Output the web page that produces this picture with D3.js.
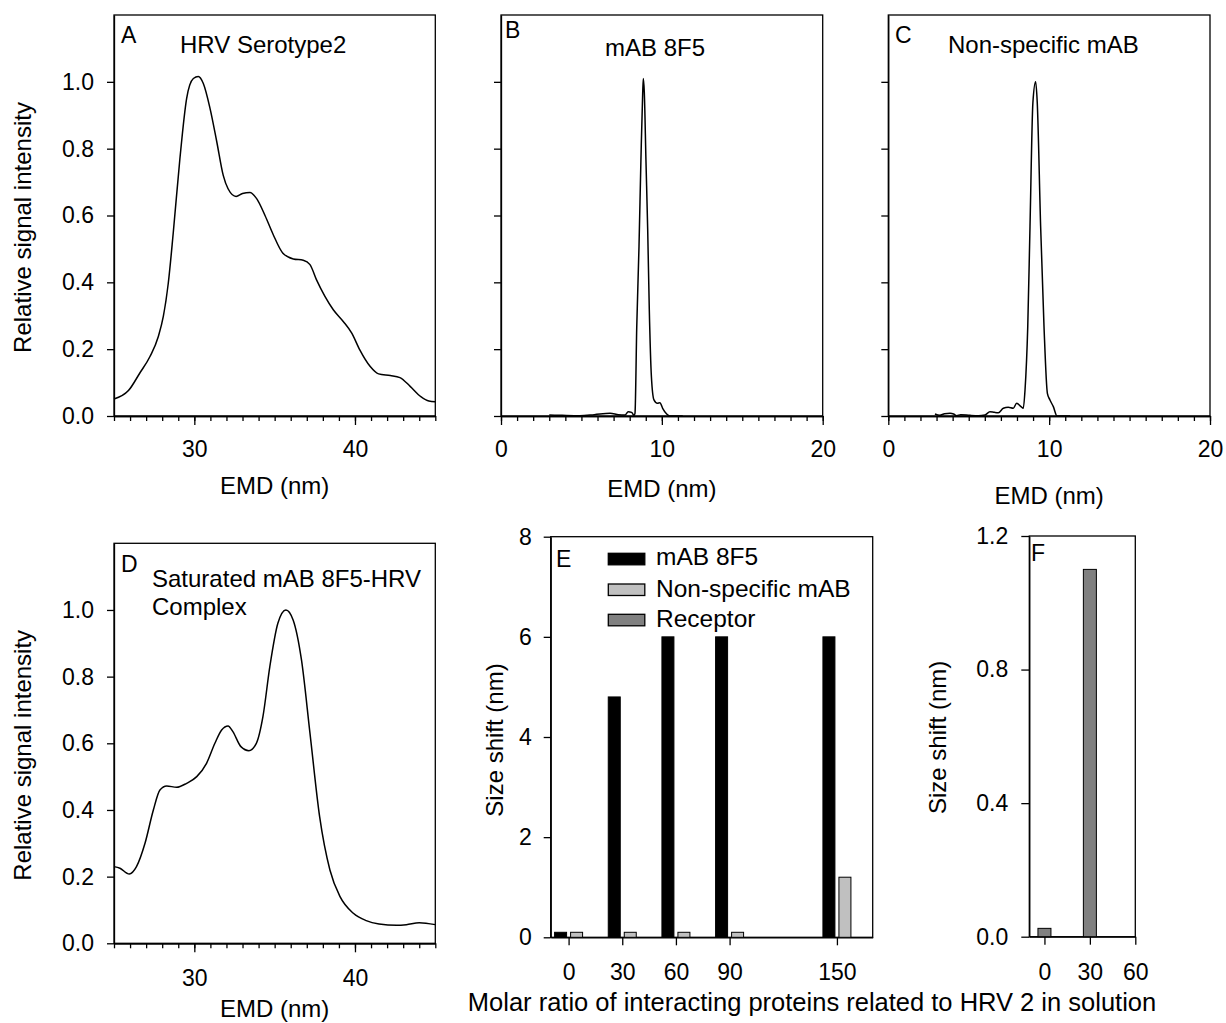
<!DOCTYPE html>
<html>
<head>
<meta charset="utf-8">
<script src="https://cdn.jsdelivr.net/npm/d3@7"></script>
<style>
body { margin: 0; background: #fff; }
svg text { font-family: "Liberation Sans", Arial, sans-serif; fill: #000; }
</style>
</head>
<body>
<div id="chart"></div>
<script>
// Panel A - HRV Serotype2
const emdA = [25.0,25.9,26.6,27.24,27.76,28.07,28.38,28.69,29.1,29.52,29.94,30.25,30.56,30.98,31.4,31.8,32.1,32.6,33.0,33.46,33.9,34.4,34.9,35.5,36.16,36.78,37.2,37.6,38.13,38.65,39.27,39.8,40.3,40.95,41.47,42.2,42.8,43.45,44.1,44.6,45.0];
const sigA = [0.051,0.076,0.128,0.178,0.238,0.298,0.398,0.549,0.769,0.95,1.01,1.016,0.995,0.92,0.82,0.72,0.68,0.657,0.666,0.669,0.649,0.6,0.544,0.488,0.47,0.466,0.453,0.408,0.358,0.318,0.283,0.248,0.198,0.148,0.126,0.121,0.115,0.088,0.058,0.045,0.043];

// Panel B - mAB 8F5
const emdB = [3.0,3.8,4.9,5.8,6.78,7.3,7.71,7.91,8.12,8.27,8.33,8.44,8.58,8.70,8.81,8.85,8.91,9.01,9.12,9.22,9.35,9.51,9.72,9.88,10.05,10.3,10.5,11.3];
const sigB = [0.003,0.002,0.001,0.004,0.008,0.004,0.003,0.013,0.011,0.002,0.008,0.268,0.508,0.768,0.968,1.01,0.968,0.768,0.558,0.318,0.118,0.048,0.038,0.04,0.023,0.006,0,0];

// Panel C - Non-specific mAB
const emdC = [2.9,3.2,3.5,3.84,4.06,4.25,4.5,5.08,5.6,6.01,6.32,6.6,6.84,7.15,7.46,7.77,7.98,8.25,8.39,8.5,8.67,8.81,8.99,9.16,9.26,9.47,9.68,9.89,10.05,10.26,10.49,11.3];
const sigC = [0.006,0.002,0.007,0.008,0.006,0.001,0.004,0.002,0.001,0.003,0.013,0.011,0.01,0.023,0.026,0.023,0.038,0.028,0.023,0.078,0.268,0.568,0.938,1.0,0.938,0.568,0.268,0.068,0.048,0.028,0,0];

// Panel D - saturated complex
const emdD = [25.0,25.37,25.95,26.4,26.93,27.45,27.86,28.28,28.9,29.52,30.15,30.76,31.28,31.7,32.1,32.4,32.9,33.4,33.86,34.27,34.7,35.2,35.7,36.15,36.67,37.2,37.8,38.44,39.07,39.9,40.7,41.5,42.6,43.2,44.0,45.0];
const sigD = [0.23,0.225,0.208,0.23,0.30,0.40,0.46,0.472,0.468,0.48,0.50,0.54,0.60,0.64,0.652,0.635,0.59,0.578,0.60,0.68,0.83,0.96,1.0,0.97,0.85,0.63,0.38,0.22,0.14,0.09,0.068,0.058,0.054,0.056,0.062,0.056];

// Panel E / F - size shift bars
const ratiosE = [0, 30, 60, 90, 150];
const mab8F5 = [0.1, 4.8, 6, 6, 6];
const nonSpecific = [0.1, 0.1, 0.1, 0.1, 1.2];
const ratiosF = [0, 30];
const receptor = [0.025, 1.1];
const legendNames = ["mAB 8F5", "Non-specific mAB", "Receptor"];
const legendColors = ["#000000", "#c0c0c0", "#808080"];

const yTicksCurve = [0, 0.2, 0.4, 0.6, 0.8, 1.0];

const W = 1226, H = 1023;
const svg = d3.select("#chart").append("svg")
    .attr("width", W)
    .attr("height", H);
svg.append("rect").attr("width", W).attr("height", H).attr("fill", "#fff");

function styleAxis(sel) {
    sel.select(".domain").attr("stroke", "#000").attr("stroke-width", 1.3);
    sel.selectAll(".tick line").attr("stroke", "#000").attr("stroke-width", 1.3);
    sel.selectAll("text").attr("font-size", 23);
}

function curvePanel(o) {
    let w = o.right - o.left, h = o.bottom - o.top;
    let g = svg.append("g").attr("transform", `translate(${o.left},${o.top})`);
    let x = d3.scaleLinear().domain(o.xDomain).range([0, w]);
    let y = d3.scaleLinear().domain([0, 1.2]).range([h, 0]);

    // minor x ticks
    g.append("g")
        .attr("transform", `translate(0,${h})`)
        .call(d3.axisBottom(x).tickValues(d3.range(o.xDomain[0], o.xDomain[1] + 0.5, 1)).tickSize(5).tickSizeOuter(0).tickFormat(""))
        .call(styleAxis);

    // major x ticks
    let xa = g.append("g")
        .attr("transform", `translate(0,${h})`)
        .call(d3.axisBottom(x).tickValues(o.xMajor).tickSize(9).tickSizeOuter(0).tickFormat(d3.format("d")))
        .call(styleAxis);
    xa.selectAll("text").attr("dy", null).attr("y", o.tickLabelY || 41);

    g.append("g")
        .call(d3.axisLeft(y).tickValues(yTicksCurve).tickSize(7).tickSizeOuter(0).tickPadding(13)
            .tickFormat(o.yLabels ? d3.format(".1f") : ""))
        .call(styleAxis);

    g.append("rect")
        .attr("width", w).attr("height", h)
        .attr("fill", "none").attr("stroke", "#000").attr("stroke-width", 1.3);

    let line = d3.line()
        .x(d => x(d[0]))
        .y(d => y(d[1]))
        .curve(d3.curveMonotoneX);

    g.append("path")
        .datum(d3.zip(o.xs, o.ys))
        .attr("fill", "none")
        .attr("stroke", "#000")
        .attr("stroke-width", 1.5)
        .attr("d", line);

    // x title
    svg.append("text")
        .attr("x", o.left + w / 2)
        .attr("y", o.xTitleY)
        .attr("text-anchor", "middle")
        .attr("font-size", 24)
        .text("EMD (nm)");

    if (o.yLabels) {
        svg.append("text")
            .attr("transform", `translate(31,${o.top + h / 2 + 12}) rotate(-90)`)
            .attr("text-anchor", "middle")
            .attr("font-size", 24)
            .text("Relative signal intensity");
    }

    svg.append("text")
        .attr("x", o.letterPos[0]).attr("y", o.letterPos[1])
        .attr("font-size", 23)
        .text(o.letter);

    o.title.forEach((t, i) => {
        svg.append("text")
            .attr("x", o.titlePos[0]).attr("y", o.titlePos[1] + i * 28)
            .attr("font-size", 24)
            .text(t);
    });
}

curvePanel({left: 114, right: 435.3, top: 15, bottom: 416, xDomain: [25, 45], xMajor: [30, 40],
    xs: emdA, ys: sigA, yLabels: true, xTitleY: 494, letter: "A", letterPos: [121, 43],
    title: ["HRV Serotype2"], titlePos: [180, 53]});

curvePanel({left: 501, right: 822.7, top: 15, bottom: 416, xDomain: [0, 20], xMajor: [0, 10, 20],
    xs: emdB, ys: sigB, yLabels: false, xTitleY: 497, letter: "B", letterPos: [505, 38],
    title: ["mAB 8F5"], titlePos: [605, 56]});

curvePanel({left: 888.3, right: 1210, top: 15, bottom: 416, xDomain: [0, 20], xMajor: [0, 10, 20],
    xs: emdC, ys: sigC, yLabels: false, xTitleY: 504, letter: "C", letterPos: [895, 43],
    title: ["Non-specific mAB"], titlePos: [948, 53]});

curvePanel({left: 114, right: 435.3, top: 543.3, bottom: 943.3, xDomain: [25, 45], xMajor: [30, 40],
    xs: emdD, ys: sigD, yLabels: true, xTitleY: 1017, tickLabelY: 43, letter: "D", letterPos: [121, 572],
    title: ["Saturated mAB 8F5-HRV", "Complex"], titlePos: [152, 587]});

// ---- Panel E ----
(function () {
    let left = 550.7, right = 872.7, top = 536.7, bottom = 937.3;
    let w = right - left, h = bottom - top;
    let g = svg.append("g").attr("transform", `translate(${left},${top})`);
    let x = d3.scaleLinear().domain([-10, 170]).range([0, w]);
    let y = d3.scaleLinear().domain([0, 8]).range([h, 0]);

    let xa = g.append("g").attr("transform", `translate(0,${h})`)
        .call(d3.axisBottom(x).tickValues(ratiosE).tickSize(8).tickSizeOuter(0).tickFormat(d3.format("d")))
        .call(styleAxis);
    xa.selectAll("text").attr("dy", null).attr("y", 43);

    g.append("g")
        .call(d3.axisLeft(y).tickValues([0, 2, 4, 6, 8]).tickSize(7).tickSizeOuter(0).tickPadding(12).tickFormat(d3.format("d")))
        .call(styleAxis);

    g.append("rect").attr("width", w).attr("height", h)
        .attr("fill", "none").attr("stroke", "#000").attr("stroke-width", 1.3);

    let bw = 12;
    g.selectAll(".bar-mab").data(ratiosE).enter().append("rect")
        .attr("x", (d) => x(d) - 2 - bw)
        .attr("y", (d, i) => y(mab8F5[i]))
        .attr("width", bw)
        .attr("height", (d, i) => h - y(mab8F5[i]))
        .attr("fill", legendColors[0]).attr("stroke", "#000").attr("stroke-width", 1);

    g.selectAll(".bar-ns").data(ratiosE).enter().append("rect")
        .attr("x", (d) => x(d) + 2)
        .attr("y", (d, i) => y(nonSpecific[i]))
        .attr("width", bw)
        .attr("height", (d, i) => h - y(nonSpecific[i]))
        .attr("fill", legendColors[1]).attr("stroke", "#000").attr("stroke-width", 1);

    // legend
    legendNames.forEach((name, i) => {
        let ly = [553.3, 584, 614.3][i];
        svg.append("rect")
            .attr("x", 608.3).attr("y", ly).attr("width", 36.5).attr("height", 11.5)
            .attr("fill", legendColors[i]).attr("stroke", "#000").attr("stroke-width", 1.3);
        svg.append("text")
            .attr("x", 656).attr("y", [565, 597, 627][i])
            .attr("font-size", 24.5)
            .text(name);
    });

    svg.append("text").attr("x", 556).attr("y", 567).attr("font-size", 23).text("E");

    svg.append("text")
        .attr("transform", `translate(503,${top + h / 2 + 3}) rotate(-90)`)
        .attr("text-anchor", "middle")
        .attr("font-size", 24)
        .text("Size shift (nm)");
})();

// ---- Panel F ----
(function () {
    let left = 1029.3, right = 1135.3, top = 536, bottom = 936.7;
    let w = right - left, h = bottom - top;
    let g = svg.append("g").attr("transform", `translate(${left},${top})`);
    let x = d3.scaleLinear().domain([-10, 60]).range([0, w]);
    let y = d3.scaleLinear().domain([0, 1.2]).range([h, 0]);

    let xa = g.append("g").attr("transform", `translate(0,${h})`)
        .call(d3.axisBottom(x).tickValues([0, 30, 60]).tickSize(8).tickSizeOuter(0).tickFormat(d3.format("d")))
        .call(styleAxis);
    xa.selectAll("text").attr("dy", null).attr("y", 43);

    g.append("g")
        .call(d3.axisLeft(y).tickValues([0, 0.4, 0.8, 1.2]).tickSize(8).tickSizeOuter(0).tickPadding(13).tickFormat(d3.format(".1f")))
        .call(styleAxis);

    g.append("rect").attr("width", w).attr("height", h)
        .attr("fill", "none").attr("stroke", "#000").attr("stroke-width", 1.3);

    let bw = 13;
    g.selectAll(".bar-rec").data(ratiosF).enter().append("rect")
        .attr("x", (d) => x(d) - bw / 2)
        .attr("y", (d, i) => y(receptor[i]))
        .attr("width", bw)
        .attr("height", (d, i) => h - y(receptor[i]))
        .attr("fill", legendColors[2]).attr("stroke", "#000").attr("stroke-width", 1);

    svg.append("text").attr("x", 1031).attr("y", 561).attr("font-size", 23).text("F");

    svg.append("text")
        .attr("transform", `translate(946,${top + h / 2 + 1}) rotate(-90)`)
        .attr("text-anchor", "middle")
        .attr("font-size", 24)
        .text("Size shift (nm)");
})();

// shared x title for E and F
svg.append("text")
    .attr("x", 812).attr("y", 1011)
    .attr("text-anchor", "middle")
    .attr("font-size", 25.5)
    .text("Molar ratio of interacting proteins related to HRV 2 in solution");
</script>
</body>
</html>
